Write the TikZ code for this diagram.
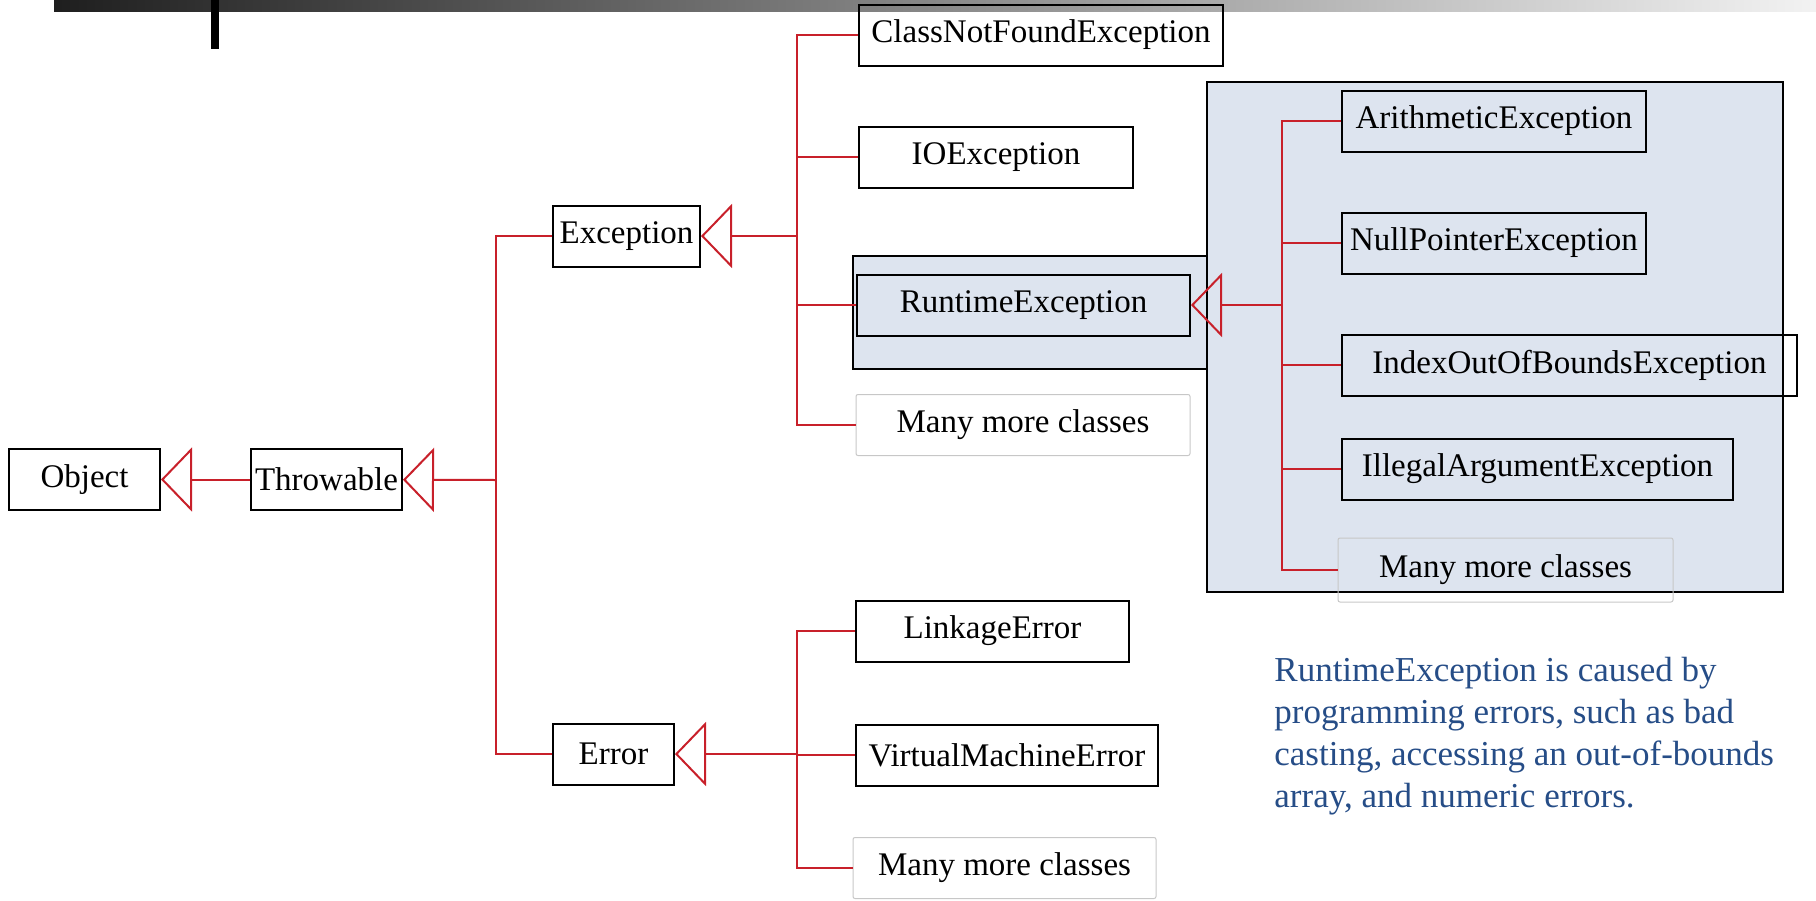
\documentclass[tikz,border=0pt]{standalone}
\usepackage{fontspec}
\setmainfont{Liberation Serif}
\usetikzlibrary{arrows.meta}
\definecolor{umlred}{RGB}{200,32,42}
\definecolor{panel}{RGB}{221,228,239}
\definecolor{notetext}{RGB}{38,77,135}
\tikzset{
  cls/.style={draw,line width=1pt,inner sep=0pt,minimum height=30.5pt,font=\fontsize{16.5}{19}\selectfont},
  morebox/.style={cls,draw=black!22,line width=0.5pt,rounded corners=1pt},
  rline/.style={umlred,line width=1pt},
  inh/.style={rline,-{Triangle[open,length=15.5pt,width=32pt,line width=1pt]}}
}
\begin{document}
\begin{tikzpicture}[x=0.5pt,y=-0.5pt]
\useasboundingbox (0,0) rectangle (1816,900);
\shade[left color=black!88,right color=black!5] (54,0) rectangle (1816,11);
\fill (211,0) rectangle (219,49);
\draw[fill=panel,line width=1pt] (853,256) rectangle (1207,369);
\draw[fill=panel,line width=1pt] (1207,82) rectangle (1783,592);

\node[cls,minimum width=75.5pt] (obj) at (84.5,479.5) {Object};
\node[cls,minimum width=75.5pt] (thr) at (326.5,479.5) {Throwable};
\node[cls,minimum width=73.5pt] (exc) at (626.5,236) {Exception};
\node[cls,minimum width=60.5pt] (err) at (613.5,754) {Error};
\node[cls,minimum width=182pt] (cnf) at (1041,35) {ClassNotFoundException};
\node[cls,minimum width=137pt] (io) at (996,157) {IOException};
\node[cls,minimum width=166.5pt] (rt) at (1023.5,305) {RuntimeException};
\node[morebox,minimum width=167pt] (more1) at (1023,425) {Many more classes};
\node[cls,minimum width=152pt] (ari) at (1494,121) {ArithmeticException};
\node[cls,minimum width=152pt] (npe) at (1494,243) {NullPointerException};
\node[cls,minimum width=227.5pt] (ioob) at (1569.5,365) {IndexOutOfBoundsException};
\node[cls,minimum width=195.5pt] (iae) at (1537.5,469) {IllegalArgumentException};
\node[morebox,minimum width=167.5pt,minimum height=32pt] (more2) at (1505.5,570) {Many more classes};
\node[cls,minimum width=136.5pt] (lnk) at (992.5,631) {LinkageError};
\node[cls,minimum width=151pt] (vme) at (1007,755) {VirtualMachineError};
\node[morebox,minimum width=151.5pt] (more3) at (1004.5,868) {Many more classes};
\node[anchor=north west,inner sep=0pt,align=left,text=notetext,font=\fontsize{17.5}{21}\selectfont] (note) at (1274,657)
  {RuntimeException is caused by\\programming errors, such as bad\\casting, accessing an out-of-bounds\\array, and numeric errors.};

\coordinate (t1) at (496,480);
\coordinate (t2) at (797,236);
\coordinate (t3) at (1282,305);
\coordinate (t4) at (797,754);

\draw[inh] (thr) -- (obj);
\draw[inh] (t1) -- (thr);
\draw[rline] (exc.west) -| (t1) |- (err.west);
\draw[inh] (t2) -- (exc);
\draw[rline] (cnf.west) -| (t2) |- (more1.west);
\draw[rline] (io.west) -- (io.west -| t2);
\draw[rline] (rt.west) -- (rt.west -| t2);
\draw[inh] (t3) -- (rt);
\draw[rline] (ari.west) -| (t3) |- (more2.west);
\draw[rline] (npe.west) -- (npe.west -| t3);
\draw[rline] (ioob.west) -- (ioob.west -| t3);
\draw[rline] (iae.west) -- (iae.west -| t3);
\draw[inh] (t4) -- (err);
\draw[rline] (lnk.west) -| (t4) |- (more3.west);
\draw[rline] (vme.west) -- (vme.west -| t4);
\end{tikzpicture}
\end{document}
